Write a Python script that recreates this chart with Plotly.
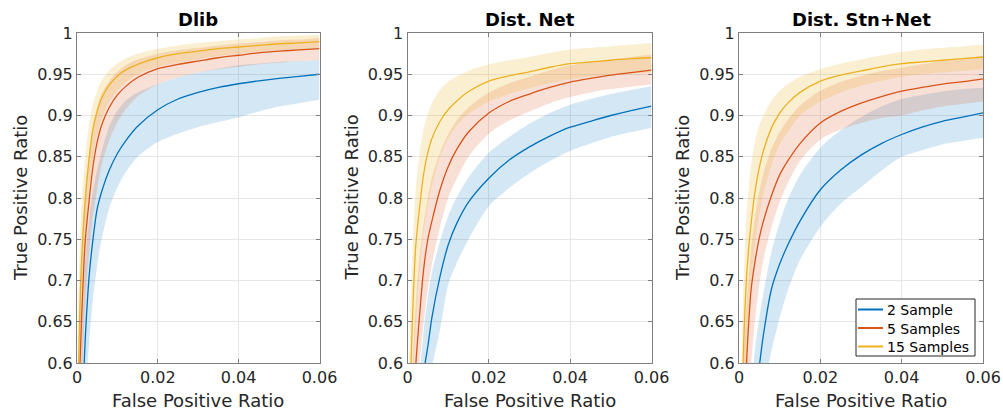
import plotly.graph_objects as go

# ---------------- data ----------------
FPR = [0.0002, 0.0005, 0.001, 0.002, 0.003, 0.004, 0.005, 0.006, 0.008, 0.010, 0.012,
       0.015, 0.02, 0.025, 0.03, 0.035, 0.04, 0.045, 0.05, 0.055, 0.06]

panel_titles = ["Dlib", "Dist. Net", "Dist. Stn+Net"]
series_names = ["2 Sample", "5 Samples", "15 Samples"]
x_tick_vals = [0, 0.02, 0.04, 0.06]
x_tick_text = ["0", "0.02", "0.04", "0.06"]
y_tick_vals = [0.6, 0.65, 0.7, 0.75, 0.8, 0.85, 0.9, 0.95, 1.0]
y_tick_text = ["0.6", "0.65", "0.7", "0.75", "0.8", "0.85", "0.9", "0.95", "1"]

# Dlib
dlib_s2_mean = [0.30, 0.40, 0.50, 0.625, 0.705, 0.752, 0.787, 0.806, 0.834, 0.854, 0.869, 0.887, 0.907, 0.92, 0.928, 0.934, 0.9385, 0.942, 0.945, 0.9475, 0.95]
dlib_s2_low = [0.20, 0.30, 0.40, 0.55, 0.625, 0.68, 0.718, 0.748, 0.788, 0.813, 0.831, 0.85, 0.868, 0.878, 0.886, 0.892, 0.898, 0.905, 0.911, 0.915, 0.919]
dlib_s2_high = [0.40, 0.50, 0.60, 0.72, 0.775, 0.81, 0.835, 0.855, 0.887, 0.906, 0.918, 0.928, 0.938, 0.946, 0.952, 0.957, 0.961, 0.963, 0.965, 0.966, 0.967]
dlib_s5_mean = [0.48, 0.56, 0.635, 0.745, 0.797, 0.84, 0.868, 0.887, 0.91, 0.925, 0.935, 0.946, 0.9567, 0.962, 0.966, 0.970, 0.973, 0.976, 0.978, 0.9795, 0.981]
dlib_s5_low = [0.38, 0.47, 0.555, 0.67, 0.735, 0.78, 0.81, 0.838, 0.87, 0.892, 0.907, 0.923, 0.938, 0.946, 0.952, 0.956, 0.959, 0.962, 0.964, 0.966, 0.967]
dlib_s5_high = [0.57, 0.64, 0.71, 0.81, 0.855, 0.89, 0.91, 0.925, 0.942, 0.953, 0.961, 0.968, 0.975, 0.979, 0.982, 0.985, 0.987, 0.989, 0.991, 0.992, 0.994]
dlib_s15_mean = [0.55, 0.62, 0.71, 0.795, 0.848, 0.885, 0.905, 0.92, 0.937, 0.948, 0.955, 0.962, 0.970, 0.975, 0.978, 0.981, 0.983, 0.985, 0.987, 0.988, 0.9895]
dlib_s15_low = [0.47, 0.54, 0.64, 0.745, 0.81, 0.852, 0.878, 0.895, 0.917, 0.93, 0.94, 0.95, 0.959, 0.964, 0.968, 0.972, 0.975, 0.977, 0.979, 0.980, 0.981]
dlib_s15_high = [0.63, 0.71, 0.78, 0.85, 0.89, 0.915, 0.93, 0.942, 0.955, 0.963, 0.969, 0.975, 0.981, 0.985, 0.988, 0.990, 0.992, 0.994, 0.996, 0.997, 0.998]

# Dist. Net
net_s2_mean = [0.35, 0.40, 0.45, 0.50, 0.55, 0.59, 0.62, 0.655, 0.705, 0.743, 0.768, 0.795, 0.824, 0.846, 0.862, 0.875, 0.8858, 0.893, 0.900, 0.906, 0.9113]
net_s2_low = [0.25, 0.30, 0.35, 0.42, 0.48, 0.53, 0.565, 0.595, 0.64, 0.695, 0.72, 0.75, 0.79, 0.812, 0.83, 0.845, 0.857, 0.866, 0.874, 0.88, 0.885]
net_s2_high = [0.38, 0.42, 0.45, 0.52, 0.585, 0.64, 0.68, 0.71, 0.748, 0.778, 0.80, 0.825, 0.855, 0.874, 0.89, 0.903, 0.913, 0.92, 0.926, 0.931, 0.9356]
net_s5_mean = [0.40, 0.45, 0.50, 0.595, 0.66, 0.715, 0.75, 0.772, 0.81, 0.838, 0.858, 0.88, 0.903, 0.917, 0.926, 0.934, 0.9405, 0.945, 0.949, 0.952, 0.955]
net_s5_low = [0.30, 0.36, 0.43, 0.53, 0.60, 0.65, 0.69, 0.72, 0.765, 0.80, 0.822, 0.85, 0.878, 0.894, 0.905, 0.915, 0.9225, 0.928, 0.932, 0.935, 0.9377]
net_s5_high = [0.48, 0.53, 0.58, 0.67, 0.73, 0.77, 0.80, 0.825, 0.855, 0.877, 0.893, 0.91, 0.9275, 0.939, 0.947, 0.955, 0.961, 0.965, 0.968, 0.971, 0.974]
net_s15_mean = [0.42, 0.52, 0.62, 0.74, 0.79, 0.83, 0.855, 0.872, 0.893, 0.907, 0.917, 0.929, 0.9417, 0.948, 0.953, 0.9585, 0.9628, 0.965, 0.967, 0.969, 0.970]
net_s15_low = [0.32, 0.42, 0.52, 0.64, 0.71, 0.76, 0.79, 0.815, 0.85, 0.872, 0.887, 0.902, 0.917, 0.926, 0.933, 0.939, 0.944, 0.947, 0.949, 0.951, 0.952]
net_s15_high = [0.52, 0.62, 0.71, 0.81, 0.855, 0.885, 0.902, 0.915, 0.931, 0.941, 0.947, 0.954, 0.962, 0.967, 0.971, 0.976, 0.980, 0.982, 0.984, 0.986, 0.988]

# Dist. Stn+Net
stn_s2_mean = [0.30, 0.35, 0.40, 0.46, 0.51, 0.555, 0.596, 0.634, 0.69, 0.72, 0.743, 0.772, 0.81, 0.834, 0.852, 0.866, 0.877, 0.886, 0.893, 0.898, 0.9032]
stn_s2_low = [0.20, 0.25, 0.30, 0.38, 0.44, 0.49, 0.53, 0.565, 0.615, 0.655, 0.688, 0.725, 0.765, 0.793, 0.813, 0.833, 0.85, 0.858, 0.865, 0.869, 0.873]
stn_s2_high = [0.38, 0.42, 0.45, 0.50, 0.565, 0.62, 0.655, 0.685, 0.735, 0.77, 0.798, 0.828, 0.861, 0.882, 0.898, 0.911, 0.92, 0.925, 0.929, 0.932, 0.9336]
stn_s5_mean = [0.38, 0.44, 0.50, 0.615, 0.69, 0.725, 0.752, 0.772, 0.803, 0.828, 0.845, 0.866, 0.891, 0.905, 0.915, 0.923, 0.9296, 0.934, 0.938, 0.941, 0.9445]
stn_s5_low = [0.30, 0.36, 0.42, 0.53, 0.60, 0.655, 0.695, 0.725, 0.765, 0.795, 0.818, 0.845, 0.871, 0.883, 0.891, 0.897, 0.90, 0.906, 0.911, 0.914, 0.917]
stn_s5_high = [0.48, 0.54, 0.60, 0.68, 0.74, 0.78, 0.808, 0.83, 0.86, 0.88, 0.895, 0.912, 0.93, 0.941, 0.948, 0.954, 0.958, 0.962, 0.966, 0.969, 0.972]
stn_s15_mean = [0.35, 0.45, 0.60, 0.715, 0.77, 0.81, 0.837, 0.857, 0.885, 0.903, 0.915, 0.928, 0.9417, 0.949, 0.954, 0.959, 0.9628, 0.965, 0.967, 0.969, 0.9709]
stn_s15_low = [0.25, 0.35, 0.50, 0.63, 0.70, 0.745, 0.78, 0.805, 0.84, 0.865, 0.88, 0.90, 0.917, 0.928, 0.936, 0.942, 0.947, 0.950, 0.952, 0.954, 0.956]
stn_s15_high = [0.45, 0.55, 0.68, 0.79, 0.84, 0.87, 0.888, 0.90, 0.918, 0.93, 0.938, 0.947, 0.956, 0.963, 0.968, 0.973, 0.977, 0.980, 0.982, 0.984, 0.986]

panels = [
    [(dlib_s2_mean, dlib_s2_low, dlib_s2_high),
     (dlib_s5_mean, dlib_s5_low, dlib_s5_high),
     (dlib_s15_mean, dlib_s15_low, dlib_s15_high)],
    [(net_s2_mean, net_s2_low, net_s2_high),
     (net_s5_mean, net_s5_low, net_s5_high),
     (net_s15_mean, net_s15_low, net_s15_high)],
    [(stn_s2_mean, stn_s2_low, stn_s2_high),
     (stn_s5_mean, stn_s5_low, stn_s5_high),
     (stn_s15_mean, stn_s15_low, stn_s15_high)],
]

# ---------------- style ----------------
W, H = 1003, 411
line_colors = ["#0072BD", "#D95319", "#EDB120"]
band_colors = ["rgba(0,114,189,0.17)", "rgba(217,83,25,0.18)", "rgba(237,177,32,0.20)"]
FONT = "DejaVu Sans"
TXT = "#262626"

# pixel boxes of the three axes (left, right), shared top/bottom
x_px = [(77, 319.5), (407.5, 651.5), (739, 983)]
top_px, bot_px = 33, 363
y_dom = [1 - bot_px / H, 1 - top_px / H]

fig = go.Figure()

for p, series in enumerate(panels):
    ax = "" if p == 0 else str(p + 1)
    for s, (mean, low, high) in enumerate(series):
        fig.add_trace(go.Scatter(
            x=FPR, y=low, mode="lines", line=dict(width=0, shape="spline", smoothing=0.8),
            showlegend=False, hoverinfo="skip", xaxis="x" + ax, yaxis="y" + ax))
        fig.add_trace(go.Scatter(
            x=FPR, y=high, mode="lines", line=dict(width=0, shape="spline", smoothing=0.8),
            fill="tonexty", fillcolor=band_colors[s],
            showlegend=False, hoverinfo="skip", xaxis="x" + ax, yaxis="y" + ax))
    for s, (mean, low, high) in enumerate(series):
        fig.add_trace(go.Scatter(
            x=FPR, y=mean, mode="lines", name=series_names[s],
            line=dict(color=line_colors[s], width=1.3, shape="spline", smoothing=0.8),
            showlegend=False, xaxis="x" + ax, yaxis="y" + ax))

axis_common = dict(
    showline=True, linecolor="#7f7f7f", linewidth=1, mirror="ticks",
    ticks="inside", ticklen=4, tickcolor="#7f7f7f", tickwidth=1,
    showgrid=True, gridcolor="#e6e6e6", gridwidth=1, zeroline=False,
    automargin=False,
    tickfont=dict(family=FONT, size=16, color=TXT),
)

layout = dict(
    width=W, height=H, margin=dict(l=0, r=0, t=0, b=0, autoexpand=False),
    paper_bgcolor="white", plot_bgcolor="white",
    font=dict(family=FONT, color=TXT),
    showlegend=False,
    annotations=[], shapes=[],
)

for p in range(3):
    ax = "" if p == 0 else str(p + 1)
    l, r = x_px[p]
    layout["xaxis" + ax] = dict(axis_common, domain=[l / W, r / W], range=[0, 0.06],
                                tickvals=x_tick_vals, ticktext=x_tick_text,
                                anchor="y" + ax)
    layout["yaxis" + ax] = dict(axis_common, domain=y_dom, range=[0.6, 1.0],
                                tickvals=y_tick_vals, ticktext=y_tick_text,
                                anchor="x" + ax)
    cx = (l + r) / 2 / W
    layout["annotations"].append(dict(
        text="<b>" + panel_titles[p] + "</b>", x=cx, y=1 - 19.5 / H, xref="paper", yref="paper",
        xanchor="center", yanchor="middle", showarrow=False,
        font=dict(family=FONT, size=18, color="#000000")))
    layout["annotations"].append(dict(
        text="False Positive Ratio", x=cx, y=1 - 400 / H, xref="paper", yref="paper",
        xanchor="center", yanchor="middle", showarrow=False,
        font=dict(family=FONT, size=18, color=TXT)))
    layout["annotations"].append(dict(
        text="True Positive Ratio", x=(l - 57) / W, y=1 - (top_px + bot_px) / 2 / H,
        xref="paper", yref="paper", xanchor="center", yanchor="middle",
        textangle=-90, showarrow=False,
        font=dict(family=FONT, size=18, color=TXT)))

# legend box (inside the third axes, lower right), drawn like the original
leg_l, leg_r, leg_t, leg_b = 856, 975, 299, 356
layout["shapes"].append(dict(
    type="rect", xref="paper", yref="paper",
    x0=leg_l / W, x1=leg_r / W, y0=1 - leg_b / H, y1=1 - leg_t / H,
    line=dict(color=TXT, width=1), fillcolor="white", layer="above"))
row_y = [309.5, 328, 346.5]
for s in range(3):
    layout["shapes"].append(dict(
        type="line", xref="paper", yref="paper",
        x0=858 / W, x1=883 / W, y0=1 - row_y[s] / H, y1=1 - row_y[s] / H,
        line=dict(color=line_colors[s], width=2), layer="above"))
    layout["annotations"].append(dict(
        text=series_names[s], x=885 / W, y=1 - (row_y[s] + 0.5) / H,
        xref="paper", yref="paper", xanchor="left", yanchor="middle",
        showarrow=False, font=dict(family=FONT, size=14, color="#000000")))

fig.update_layout(**layout)
fig.write_html("out.html")
